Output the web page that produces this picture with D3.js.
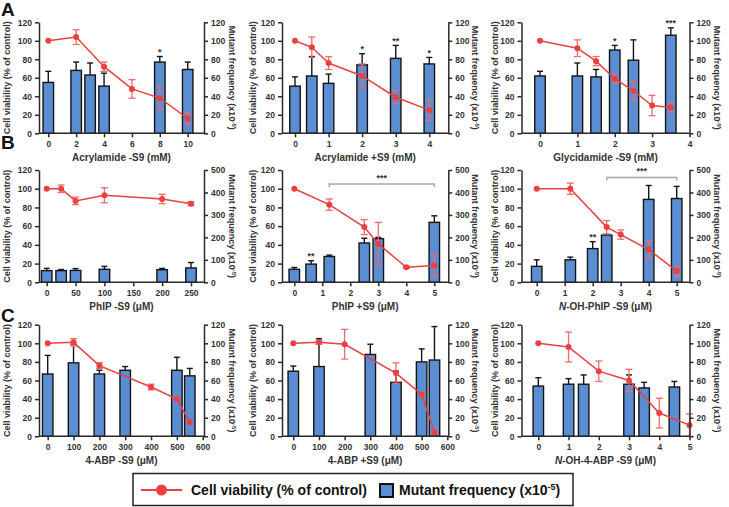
<!DOCTYPE html>
<html><head><meta charset="utf-8">
<script src="https://cdn.jsdelivr.net/npm/d3@7"></script>
<style>body{margin:0;background:#fff}</style>
</head><body>
<svg id="chart" width="729" height="507"></svg>
<script>
// ---------- DATA ----------
const leftTicks = [0,20,40,60,80,100,120];
const rightTicks120 = [0,20,40,60,80,100,120];
const rightTicks500 = [0,100,200,300,400,500];

// A1 Acrylamide -S9
const a1Ticks = [0,2,4,6,8,10];
const a1BarX = [0,2,3,4,8,10];
const a1Bar = [55,68,63,51,77,69];
const a1BarErr = [12,9,13,14,6,8];
const a1Stars = ["","","","","*",""];
const a1LineX = [0,2,4,6,8,10];
const a1Line = [100,104,72,48,38,16];
const a1LineErr = [0,8,5,10,12,6];

// A2 Acrylamide +S9
const a2Ticks = [0,1,2,3,4];
const a2BarX = [0,0.5,1,2,3,4];
const a2Bar = [51,62,54,74,81,75];
const a2BarErr = [10,21,10,12,14,7];
const a2Stars = ["","","","*","**","*"];
const a2LineX = [0,0.5,1,2,3,4];
const a2Line = [100,93,76,62,39,25];
const a2LineErr = [0,11,7,13,7,11];

// A3 Glycidamide -S9
const a3Ticks = [0,1,2,3,4];
const a3BarX = [0,1,1.5,2,2.5,3.5];
const a3Bar = [62,62,61,90,79,106];
const a3BarErr = [5,14,8,5,22,8];
const a3Stars = ["","","","*","","***"];
const a3LineX = [0,1,1.5,2,2.5,3,3.5];
const a3Line = [100,92,78,59,46,30,28];
const a3LineErr = [0,9,5,5,10,11,5];

// B1 PhIP -S9
const b1Ticks = [0,50,100,150,200,250];
const b1BarX = [0,25,50,100,200,250];
const b1Bar = [52,52,53,58,56,64];
const b1BarErr = [10,5,8,13,6,24];
const b1Stars = ["","","","","",""];
const b1LineX = [0,25,50,100,200,250];
const b1Line = [100,100,87,93,89,84];
const b1LineErr = [0,4,4,8,5,2];

// B2 PhIP +S9
const b2Ticks = [0,1,2,3,4,5];
const b2BarX = [0,0.6,1.25,2.5,3,5];
const b2Bar = [58,81,115,175,194,267];
const b2BarErr = [8,15,6,21,6,29];
const b2Stars = ["","**","","","",""];
const b2LineX = [0,1.25,2.5,3,4,5];
const b2Line = [100,83,59,41,16,18];
const b2LineErr = [0,6,8,23,1,12];
const b2Bracket = [1.25,5,105,"***"];

// B3 N-OH-PhIP -S9
const b3Ticks = [0,1,2,3,4,5];
const b3BarX = [0,1.2,2,2.5,4,5];
const b3Bar = [71,100,150,210,369,373];
const b3BarErr = [29,12,31,0,62,54];
const b3Stars = ["","","**","","",""];
const b3LineX = [0,1.2,2.5,3,4,5];
const b3Line = [100,100,59,51,35,12];
const b3LineErr = [0,6,7,5,9,5];
const b3Bracket = [2.5,5,112,"***"];

// C1 4-ABP -S9
const c1Ticks = [0,100,200,300,400,500,600];
const c1BarX = [0,100,200,300,500,550];
const c1Bar = [67,79,67,71,71,65];
const c1BarErr = [20,20,4,4,14,8];
const c1Stars = ["","","","","",""];
const c1LineX = [0,100,200,400,500,550];
const c1Line = [100,101,76,53,40,15];
const c1LineErr = [0,4,3,3,1,1];

// C2 4-ABP +S9
const c2Ticks = [0,100,200,300,400,500,600];
const c2BarX = [0,100,300,400,500,550];
const c2Bar = [70,75,88,58,80,82];
const c2BarErr = [5.5,30,11,12,14,36];
const c2Stars = ["","","","","",""];
const c2LineX = [0,100,200,400,500,550];
const c2Line = [100,101,99,68,45,4];
const c2LineErr = [0,2,16,11,1,1];

// C3 N-OH-4-ABP -S9
const c3Ticks = [0,1,2,3,4,5];
const c3BarX = [0,1,1.5,3,3.5,4.5];
const c3Bar = [54,56,56,56,52,53];
const c3BarErr = [9,6,10,10,6,6];
const c3Stars = ["","","","","",""];
const c3LineX = [0,1,2,3,4,5];
const c3Line = [100,96,70,60,25,12];
const c3LineErr = [0,16,11,12,16,12];

const xTitles = ["Acrylamide -S9 (mM)","Acrylamide +S9 (mM)","Glycidamide -S9 (mM)",
  "PhIP -S9 (\u03bcM)","PhIP +S9 (\u03bcM)","-OH-PhIP -S9 (\u03bcM)",
  "4-ABP -S9 (\u03bcM)","4-ABP +S9 (\u03bcM)","-OH-4-ABP -S9 (\u03bcM)"];
const italicPrefix = ["","","","","","N","","","N"];
const panelLetters = ["A","B","C"];
const legendLabels = ["Cell viability (% of control)","Mutant frequency (x10"];

// ---------- LAYOUT ----------
const FONT = "'Liberation Sans', Arial, Helvetica, sans-serif";
const RED = "#ec3f3f", RED_ERR = "#f26a6a", BLUE = "#5b8dd3", AX = "#2a2a2a", TXT = "#333";
const rows = [{top:22.3,bottom:133.3},{top:170,bottom:282.3},{top:324.7,bottom:436.3}];
const colL = [39,282,521.5], colR = [204,448.3,689.5];
const leftLabelX = [7,253,495], rightLabelX = [232,475,717];
const letterY = [16,149,322];

const panels = [
 {row:0,col:0,ticks:a1Ticks,xr:[48.3,187.7],rMax:120,rT:rightTicks120,bx:a1BarX,b:a1Bar,be:a1BarErr,st:a1Stars,lx:a1LineX,l:a1Line,le:a1LineErr},
 {row:0,col:1,ticks:a2Ticks,xr:[295,429.3],rMax:120,rT:rightTicks120,bx:a2BarX,b:a2Bar,be:a2BarErr,st:a2Stars,lx:a2LineX,l:a2Line,le:a2LineErr},
 {row:0,col:2,ticks:a3Ticks,xr:[540,689.5],rMax:120,rT:rightTicks120,bx:a3BarX,b:a3Bar,be:a3BarErr,st:a3Stars,lx:a3LineX,l:a3Line,le:a3LineErr},
 {row:1,col:0,ticks:b1Ticks,xr:[46.7,191],rMax:500,rT:rightTicks500,bx:b1BarX,b:b1Bar,be:b1BarErr,st:b1Stars,lx:b1LineX,l:b1Line,le:b1LineErr},
 {row:1,col:1,ticks:b2Ticks,xr:[294.3,434.3],rMax:500,rT:rightTicks500,bx:b2BarX,b:b2Bar,be:b2BarErr,st:b2Stars,lx:b2LineX,l:b2Line,le:b2LineErr,br:b2Bracket},
 {row:1,col:2,ticks:b3Ticks,xr:[536.7,676.7],rMax:500,rT:rightTicks500,bx:b3BarX,b:b3Bar,be:b3BarErr,st:b3Stars,lx:b3LineX,l:b3Line,le:b3LineErr,br:b3Bracket},
 {row:2,col:0,ticks:c1Ticks,xr:[47.7,202.7],rMax:120,rT:rightTicks120,bx:c1BarX,b:c1Bar,be:c1BarErr,st:c1Stars,lx:c1LineX,l:c1Line,le:c1LineErr},
 {row:2,col:1,ticks:c2Ticks,xr:[293.3,447.3],rMax:120,rT:rightTicks120,bx:c2BarX,b:c2Bar,be:c2BarErr,st:c2Stars,lx:c2LineX,l:c2Line,le:c2LineErr},
 {row:2,col:2,ticks:c3Ticks,xr:[538.3,689.5],rMax:120,rT:rightTicks120,bx:c3BarX,b:c3Bar,be:c3BarErr,st:c3Stars,lx:c3LineX,l:c3Line,le:c3LineErr}
];

const svg = d3.select("#chart").style("font-family", FONT);
const BW = 10.5;
const fmt = d3.format("d");

function styleAxis(sel){
  sel.selectAll("path,line").attr("stroke", AX).attr("stroke-width", 1.5);
  sel.selectAll("text").attr("font-size", 8.5).attr("font-weight", "bold").attr("fill", TXT).attr("font-family", FONT);
}

panels.forEach((p, i) => {
  const r = rows[p.row], L = colL[p.col], R = colR[p.col];
  const x = d3.scaleLinear().domain([p.ticks[0], p.ticks[p.ticks.length-1]]).range(p.xr);
  const yL = d3.scaleLinear().domain([0,120]).range([r.bottom, r.top]);
  const yR = d3.scaleLinear().domain([0,p.rMax]).range([r.bottom, r.top]);
  const g = svg.append("g");

  // bars
  const bars = p.bx.map((v,k) => ({x:v, y:p.b[k], e:p.be[k], s:p.st[k]}));
  g.selectAll("rect.bar").data(bars).join("rect")
    .attr("x", d => x(d.x) - BW/2).attr("width", BW)
    .attr("y", d => yR(d.y)).attr("height", d => r.bottom - yR(d.y))
    .attr("fill", BLUE).attr("stroke", "#151515").attr("stroke-width", 1.4);
  const be = bars.filter(d => d.e > 0);
  g.selectAll("line.bev").data(be).join("line")
    .attr("x1", d => x(d.x)).attr("x2", d => x(d.x))
    .attr("y1", d => yR(d.y)).attr("y2", d => yR(d.y + d.e))
    .attr("stroke", "#151515").attr("stroke-width", 1.4);
  g.selectAll("line.bec").data(be).join("line")
    .attr("x1", d => x(d.x) - 3).attr("x2", d => x(d.x) + 3)
    .attr("y1", d => yR(d.y + d.e)).attr("y2", d => yR(d.y + d.e))
    .attr("stroke", "#151515").attr("stroke-width", 1.4);
  g.selectAll("text.star").data(bars.filter(d => d.s)).join("text")
    .attr("x", d => x(d.x)).attr("y", d => yR(d.y + d.e) - 1.5)
    .attr("text-anchor", "middle").attr("font-size", 9).attr("font-weight", "bold").attr("fill", TXT)
    .text(d => d.s);

  // bracket
  if (p.br) {
    const [a, b, lv, s] = p.br;
    const yy = yL(lv);
    g.append("path").attr("d", `M${x(a)},${yy+3}V${yy}H${x(b)}V${yy+3}`)
      .attr("fill", "none").attr("stroke", "#a8a8a8").attr("stroke-width", 1.5);
    g.append("text").attr("x", (x(a)+x(b))/2).attr("y", yy - 3)
      .attr("text-anchor", "middle").attr("font-size", 9).attr("font-weight", "bold").attr("fill", TXT).text(s);
  }

  // line with error bars
  const pts = p.lx.map((v,k) => ({x:v, y:p.l[k], e:p.le[k]}));
  const pe = pts.filter(d => d.e > 0);
  g.selectAll("line.lev").data(pe).join("line")
    .attr("x1", d => x(d.x)).attr("x2", d => x(d.x))
    .attr("y1", d => yL(d.y - d.e)).attr("y2", d => yL(d.y + d.e))
    .attr("stroke", RED_ERR).attr("stroke-width", 1.3);
  [1,-1].forEach(sg => {
    g.selectAll("line.lec" + sg).data(pe).join("line")
      .attr("x1", d => x(d.x) - 3.5).attr("x2", d => x(d.x) + 3.5)
      .attr("y1", d => yL(d.y + sg*d.e)).attr("y2", d => yL(d.y + sg*d.e))
      .attr("stroke", RED_ERR).attr("stroke-width", 1.3);
  });
  g.append("path").datum(pts)
    .attr("d", d3.line().x(d => x(d.x)).y(d => yL(d.y)))
    .attr("fill", "none").attr("stroke", RED).attr("stroke-width", 1.5);
  g.selectAll("circle").data(pts).join("circle")
    .attr("cx", d => x(d.x)).attr("cy", d => yL(d.y)).attr("r", 3).attr("fill", RED);

  // axes
  const ax1 = g.append("g").attr("transform", `translate(${L},0)`)
    .call(d3.axisLeft(yL).tickValues(leftTicks).tickFormat(fmt).tickSize(4).tickPadding(3).tickSizeOuter(0));
  styleAxis(ax1);
  const ax2 = g.append("g").attr("transform", `translate(${R},0)`)
    .call(d3.axisRight(yR).tickValues(p.rT).tickFormat(fmt).tickSize(4).tickPadding(3).tickSizeOuter(0));
  styleAxis(ax2);
  const ax3 = g.append("g").attr("transform", `translate(0,${r.bottom})`)
    .call(d3.axisBottom(x).tickValues(p.ticks).tickFormat(fmt).tickSize(4).tickPadding(4).tickSizeOuter(0));
  ax3.select(".domain").remove();
  styleAxis(ax3);
  g.append("line").attr("x1", L).attr("x2", R).attr("y1", r.bottom).attr("y2", r.bottom)
    .attr("stroke", AX).attr("stroke-width", 1.5);

  // x title
  const xt = g.append("text").attr("x", (L+R)/2).attr("y", r.bottom + 28)
    .attr("text-anchor", "middle").attr("font-size", 10).attr("font-weight", "bold").attr("fill", TXT);
  if (italicPrefix[i]) xt.append("tspan").attr("font-style", "italic").text(italicPrefix[i]);
  xt.append("tspan").text(xTitles[i]);

  // y titles
  const cy = (r.top + r.bottom)/2;
  g.append("text").attr("transform", `translate(${leftLabelX[p.col] + 3.2},${cy}) rotate(-90)`)
    .attr("text-anchor", "middle").attr("font-size", 9).attr("font-weight", "bold").attr("fill", TXT)
    .text(legendLabels[0]);
  const rt = g.append("text").attr("transform", `translate(${rightLabelX[p.col] - 3.2},${cy}) rotate(90)`)
    .attr("text-anchor", "middle").attr("font-size", 9).attr("font-weight", "bold").attr("fill", TXT);
  rt.append("tspan").text(legendLabels[1]);
  rt.append("tspan").attr("dy", -3.5).attr("font-size", 6).text("-5");
  rt.append("tspan").attr("dy", 3.5).text(")");
});

// panel letters
svg.selectAll("text.letter").data(panelLetters).join("text")
  .attr("x", 1).attr("y", (d,i) => letterY[i])
  .attr("font-size", 19).attr("font-weight", "bold").attr("fill", "#111").text(d => d);

// legend
const lg = svg.append("g");
lg.append("rect").attr("x", 133).attr("y", 473.5).attr("width", 440).attr("height", 32)
  .attr("fill", "#fff").attr("stroke", "#222").attr("stroke-width", 1.5);
lg.append("line").attr("x1", 141).attr("x2", 182).attr("y1", 490).attr("y2", 490)
  .attr("stroke", RED).attr("stroke-width", 2);
lg.append("circle").attr("cx", 161.5).attr("cy", 490).attr("r", 5.5).attr("fill", RED);
lg.append("text").attr("x", 191).attr("y", 495).attr("font-size", 14).attr("font-weight", "bold")
  .attr("fill", "#111").text(legendLabels[0]);
lg.append("rect").attr("x", 380).attr("y", 484).attr("width", 13).attr("height", 13)
  .attr("fill", BLUE).attr("stroke", "#111").attr("stroke-width", 2);
const lt = lg.append("text").attr("x", 399).attr("y", 495).attr("font-size", 14).attr("font-weight", "bold").attr("fill", "#111");
lt.append("tspan").text(legendLabels[1]);
lt.append("tspan").attr("dy", -5).attr("font-size", 9).text("-5");
lt.append("tspan").attr("dy", 5).text(")");
</script>
</body></html>
